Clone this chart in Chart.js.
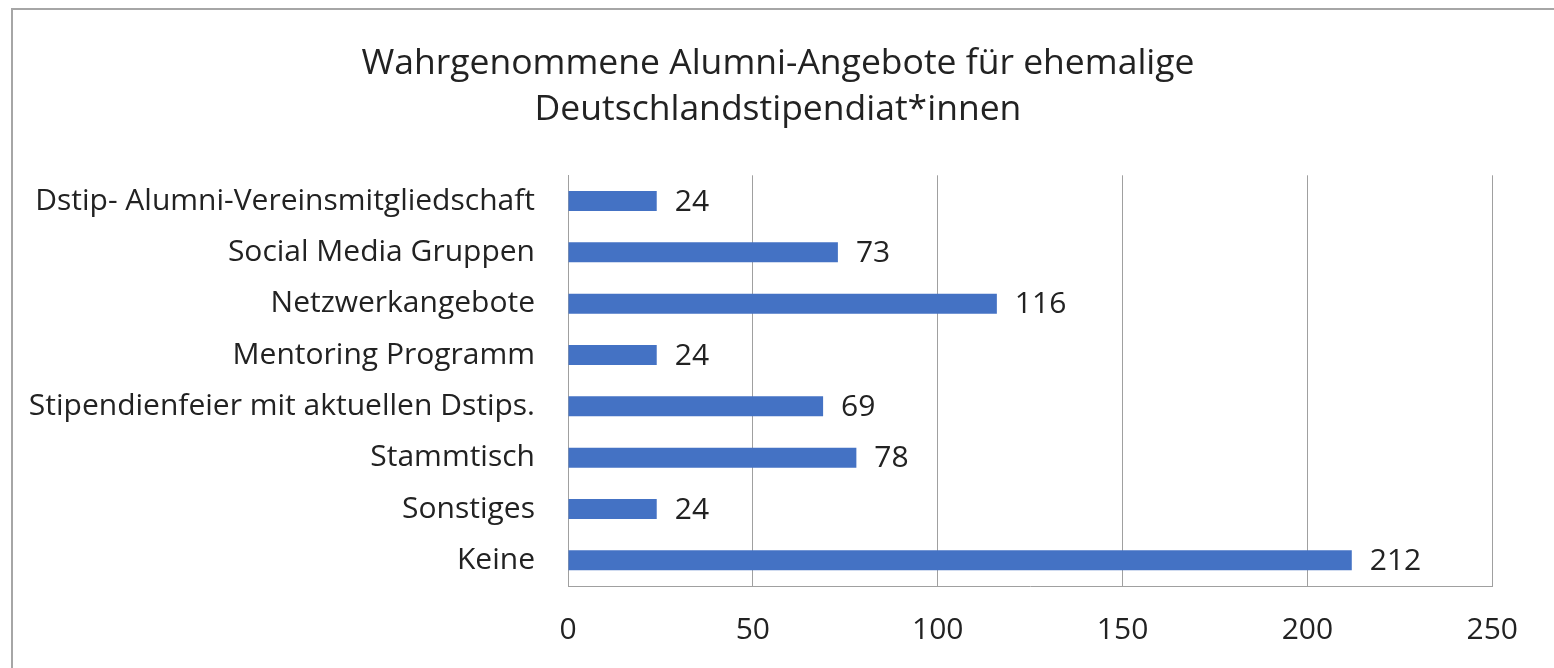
<!DOCTYPE html>
<html>
<head>
<meta charset="utf-8">
<script src="https://cdn.jsdelivr.net/npm/chart.js@4"></script>
<style>
  body { margin: 0; overflow: hidden; background: #fff; }
  #frame { position: absolute; left: 11px; top: 8px; width: 1600px; height: 700px; border: 2px solid #a6a6a6; }
  #alumniChart { position: absolute; left: 12px; top: 10px; }
</style>
</head>
<body>
<div id="frame"></div>
<canvas id="alumniChart" width="1532" height="658"></canvas>
<script>
// Alumni-Angebote, Balkendiagramm horizontal

const angebote = [
  "Dstip- Alumni-Vereinsmitgliedschaft",
  "Social Media Gruppen",
  "Netzwerkangebote",
  "Mentoring Programm",
  "Stipendienfeier mit aktuellen Dstips.",
  "Stammtisch",
  "Sonstiges",
  "Keine",
];
const anzahl = [24, 73, 116, 24, 69, 78, 24, 212];
const titel = ["Wahrgenommene Alumni-Angebote für ehemalige", "Deutschlandstipendiat*innen"];

const FONT = "'Open Sans', sans-serif";

// Werte rechts neben die Balken schreiben
const werteLabels = {
  id: "werteLabels",
  afterDatasetsDraw(chart) {
    const ctx = chart.ctx;
    const meta = chart.getDatasetMeta(0);
    ctx.save();
    ctx.font = "30px " + FONT;
    ctx.fillStyle = "#222";
    ctx.textAlign = "left";
    ctx.textBaseline = "middle";
    meta.data.forEach((bar, i) => {
      ctx.fillText(String(anzahl[i]), bar.x + 18, bar.y + 1);
    });
    ctx.restore();
  },
};

const ctx = document.getElementById("alumniChart").getContext("2d");
const chart = new Chart(ctx, {
  type: "bar",
  data: {
    labels: angebote,
    datasets: [
      {
        data: anzahl,
        backgroundColor: "#4472C4",
        barPercentage: 0.39,
        categoryPercentage: 1,
      },
    ],
  },
  plugins: [werteLabels],
  options: {
    indexAxis: "y",
    responsive: false,
    animation: false,
    layout: { padding: 0 },
    plugins: {
      legend: { display: false },
      tooltip: { enabled: false },
      title: {
        display: true,
        text: titel,
        color: "#222",
        font: { family: FONT, size: 35.5, weight: "normal", lineHeight: 1.3 },
        padding: { top: 31, bottom: 42 },
      },
    },
    scales: {
      x: {
        min: 0,
        max: 250,
        ticks: {
          stepSize: 50,
          color: "#222",
          font: { family: FONT, size: 30 },
          padding: 26,
        },
        grid: { display: true, color: "#a0a0a0", drawTicks: false },
        border: { display: true, color: "#a0a0a0" },
        afterFit(scale) {
          scale.height = 82;
        },
      },
      y: {
        ticks: {
          color: "#222",
          font: { family: FONT, size: 30 },
          padding: 25,
        },
        grid: { display: false },
        border: { display: true, color: "#a0a0a0" },
        afterFit(scale) {
          scale.width = 556;
        },
      },
      // leere Achse rechts, nur als Abstand
      rand: {
        type: "linear",
        position: "right",
        ticks: { display: false },
        grid: { display: false },
        border: { display: false },
        afterFit(scale) {
          scale.width = 50;
        },
      },
    },
  },
});
</script>
</body>
</html>
